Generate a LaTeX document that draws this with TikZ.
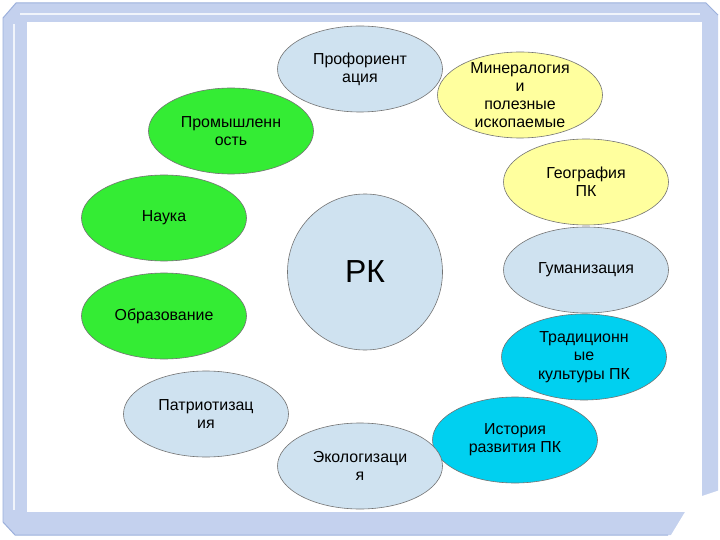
\documentclass[tikz,border=0pt]{standalone}
\usepackage{fontspec}
\setmainfont{Liberation Sans}
\usetikzlibrary{shapes.geometric}
\definecolor{frameblue}{RGB}{196,209,238}
\definecolor{frameedge}{RGB}{156,176,220}
\definecolor{paleblue}{RGB}{207,226,240}
\definecolor{paleyellow}{RGB}{255,255,158}
\definecolor{brightgreen}{RGB}{52,236,52}
\definecolor{brightcyan}{RGB}{0,208,240}
\begin{document}
\begin{tikzpicture}[x=1bp,y=-1bp,
    topic/.style={ellipse,draw=black!55,line width=0.6pt,minimum width=165bp,
      minimum height=86bp,inner xsep=0pt,inner ysep=-8pt,align=center,
      font=\fontsize{16}{18.3}\selectfont},
    blue/.style={topic,fill=paleblue},
    yellow/.style={topic,fill=paleyellow},
    green/.style={topic,fill=brightgreen},
    cyan/.style={topic,fill=brightcyan}]
  \useasboundingbox (0,0) rectangle (720,540);
  % frame
  \fill[frameblue] (3,18) -- (16,3) -- (706,3) -- (718,15)
    -- (718,535) -- (15,535) -- (3,522) -- cycle;
  \fill[white] (27,22) rectangle (702,512);
  \draw[frameedge,line width=1pt] (3,18) -- (16,3) -- (706,3) -- (718,15);
  \draw[frameedge,line width=1pt] (3,18) -- (3,522) -- (15,535) -- (668,535);
  \draw[white!75!frameblue,line width=1.5pt] (20,14) -- (700,14);
  \draw[white!75!frameblue,line width=1.5pt] (14,24) -- (14,510);
  \fill[white] (702,496) -- (720,490) -- (720,540) -- (668,540)
    -- (685,512) -- (702,512) -- cycle;
  % topics
  \draw
    (365,272) node[blue,minimum width=155bp,minimum height=156bp,
      font=\fontsize{32}{36}\selectfont] (rk){РК}
    (360,69) node[blue] (0){Профориент\\ация}
    (520,95) node[yellow] (1){Минералогия\\и\\полезные\\ископаемые}
    (586,182) node[yellow] (2){География\\ПК}
    (586,270) node[blue] (3){Гуманизация}
    (584,357) node[cyan] (4){Традиционн\\ые\\культуры ПК}
    (515,440) node[cyan] (5){История\\развития ПК}
    (360,466) node[blue] (6){Экологизаци\\я}
    (206,414) node[blue] (7){Патриотизац\\ия}
    (164,316) node[green] (8){Образование}
    (164,218) node[green] (9){Наука}
    (231,131) node[green] (10){Промышленн\\ость};
\end{tikzpicture}
\end{document}
